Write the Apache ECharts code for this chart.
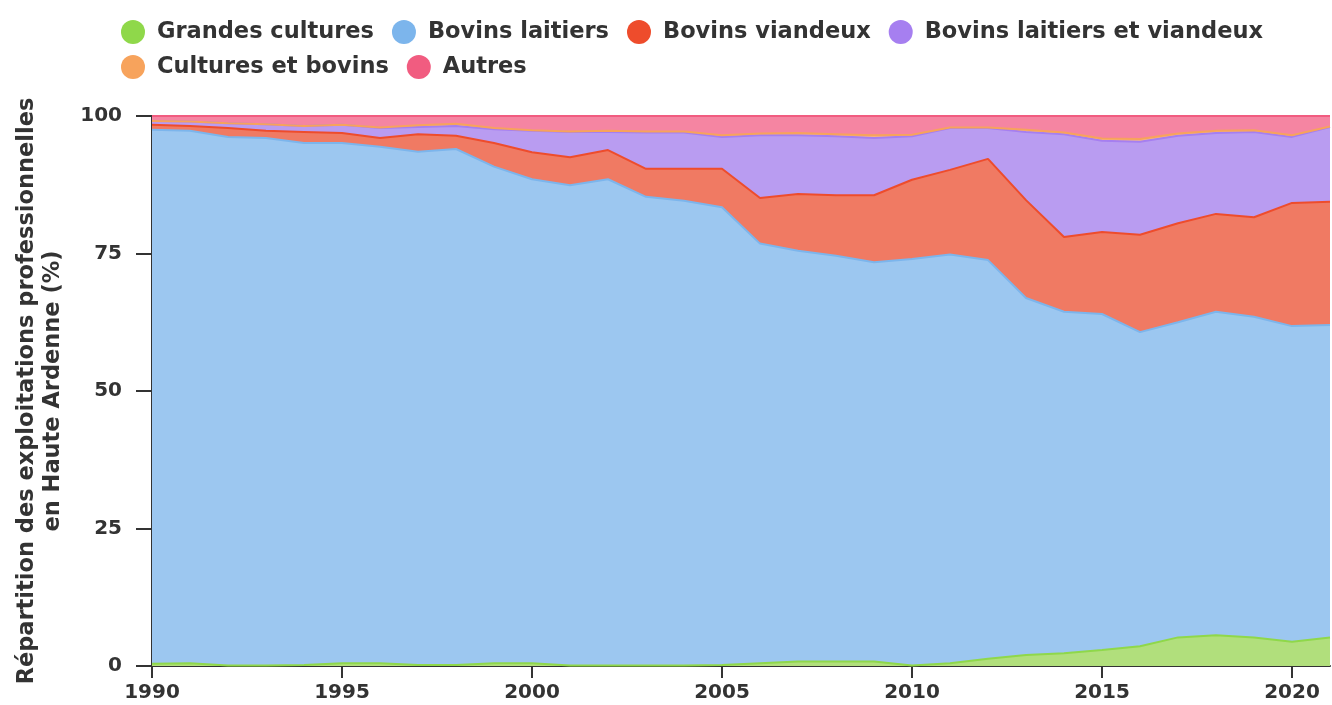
<!DOCTYPE html>
<html>
<head>
<meta charset="utf-8">
<script src="https://cdn.jsdelivr.net/npm/echarts@6/dist/echarts.min.js"></script>
<style>
  html, body { margin: 0; padding: 0; background: #fff; }
  #chart { width: 1332px; height: 705px; }
</style>
</head>
<body>
<div id="chart"></div>
<script>
var years = ['1990','1991','1992','1993','1994','1995','1996','1997','1998','1999',
	'2000','2001','2002','2003','2004','2005','2006','2007','2008','2009',
	'2010','2011','2012','2013','2014','2015','2016','2017','2018','2019','2020','2021'];

var grandesCultures = [0.4,0.5,0.1,0.1,0.2,0.5,0.5,0.2,0.2,0.5,
	0.5,0.1,0.1,0.1,0.1,0.2,0.5,0.8,0.8,0.8,
	0.1,0.5,1.3,2.0,2.3,2.9,3.6,5.2,5.6,5.2,4.4,5.2];
var bovinsLaitiers = [97.1,96.8,96.1,95.9,94.9,94.6,93.9,93.3,93.8,90.3,
	88.0,87.3,88.4,85.2,84.5,83.2,76.3,74.7,73.8,72.6,
	73.9,74.3,72.5,64.9,62.1,61.1,57.1,57.3,58.8,58.3,57.4,56.8];
var bovinsViandeux = [0.9,0.9,1.6,1.3,2.0,1.8,1.6,3.2,2.4,4.3,
	4.9,5.1,5.3,5.1,5.8,7.0,8.3,10.3,11.0,12.2,
	14.4,15.4,18.4,17.8,13.6,14.9,17.7,18.0,17.8,18.1,22.4,22.4];
var bovinsMixtes = [0.7,0.8,0.9,1.2,1.1,1.5,1.8,1.3,1.8,2.5,
	3.9,4.6,3.3,6.6,6.6,5.8,11.4,10.7,10.7,10.4,
	7.9,7.6,5.6,12.4,18.7,16.6,16.9,15.9,14.7,15.5,12.0,13.6];
var culturesBovins = [0,0,0,0,0,0,0.1,0.3,0.4,0.2,
	0.1,0.1,0.2,0.2,0.2,0.3,0.3,0.4,0.4,0.5,
	0.3,0.1,0.1,0.4,0.3,0.4,0.5,0.4,0.4,0.3,0.3,0.1];
var autres = [0.9,1.0,1.3,1.5,1.8,1.6,2.1,1.7,1.4,2.2,
	2.6,2.8,2.7,2.8,2.8,3.5,3.2,3.1,3.3,3.5,
	3.4,2.1,2.1,2.5,3.0,4.1,4.2,3.2,2.7,2.6,3.5,1.9];

var names = ['Grandes cultures','Bovins laitiers','Bovins viandeux',
	'Bovins laitiers et viandeux','Cultures et bovins','Autres'];
var lineColors = ['#8fd84a','#7cb5ec','#ee4c2c','#a67ff0','#f7a35c','#f15c80'];
var fillColors = ['#b1df7c','#9cc7f0','#f07a63','#b99cf1','#f9b985','#f585a2'];
var values = [grandesCultures, bovinsLaitiers, bovinsViandeux, bovinsMixtes, culturesBovins, autres];

var myChart = echarts.init(document.getElementById('chart'));

var series = [];
for (var i = 0; i < names.length; i++) {
	series.push({
		name : names[i],
		type : 'line',
		stack : 'total',
		symbol : 'none',
		color : lineColors[i],
		lineStyle : { width : 2, color : lineColors[i] },
		areaStyle : { color : fillColors[i], opacity : 1 },
		data : values[i]
	});
}

// two legend rows, same style
function legendRow(top, data) {
	return {
		left : 116,
		top : top,
		itemWidth : 24,
		itemHeight : 24,
		itemGap : 18,
		icon : 'circle',
		textStyle : { color : '#333', fontSize : 22.5, fontWeight : 'bold', padding : [0, 0, 0, 7] },
		data : data
	};
}

var option = {
	backgroundColor : '#fff',
	animation : false,
	textStyle : { fontFamily : 'DejaVu Sans' },
	legend : [
		legendRow(15, names.slice(0, 4)),
		legendRow(50, names.slice(4))
	],
	grid : { left : 152, right : 2, top : 116, bottom : 39 },
	xAxis : {
		type : 'category',
		boundaryGap : false,
		data : years,
		axisLine : { lineStyle : { color : '#333', width : 2 } },
		axisTick : { interval : 4, length : 12, lineStyle : { color : '#333', width : 2 } },
		axisLabel : { interval : 4, color : '#333', fontSize : 20, fontWeight : 'bold', margin : 17 }
	},
	yAxis : {
		type : 'value',
		min : 0,
		max : 100,
		interval : 25,
		name : 'Répartition des exploitations professionnelles\nen Haute Ardenne (%)',
		nameLocation : 'middle',
		nameGap : 86,
		nameTextStyle : { color : '#333', fontSize : 22.5, fontWeight : 'bold', lineHeight : 26 },
		axisLine : { show : true, lineStyle : { color : '#333', width : 2 } },
		axisTick : { show : true, length : 16, lineStyle : { color : '#333', width : 2 } },
		axisLabel : { color : '#333', fontSize : 20, fontWeight : 'bold', margin : 30 },
		splitLine : { show : true, lineStyle : { color : 'rgba(0,0,0,0.06)', width : 1 } }
	},
	series : series
};
myChart.setOption(option);
</script>
</body>
</html>
